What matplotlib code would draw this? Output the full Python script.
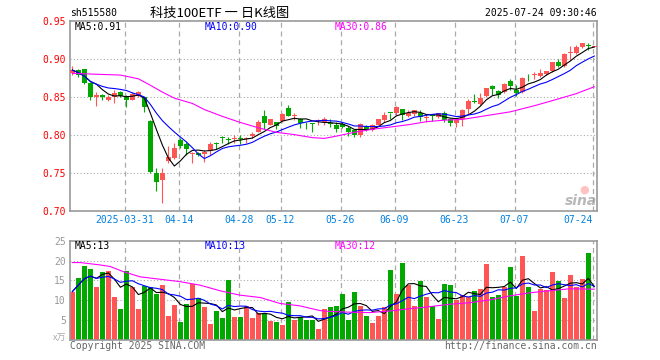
import numpy as np
import pandas as pd
import matplotlib
matplotlib.use('Agg')
import matplotlib.pyplot as plt

# daily K data for 515580, 2025-03-18 .. 2025-07-24 (88 trading days)
opens = [.882, .886, .887, .869, .850, .853, .847, .850, .857, .852,
         .847, .852, .850, .819, .751, .741, .766, .770, .794, .789,
         .776, .777, .775, .779, .7895, .7965, .7945, .795, .7955, .795,
         .799, .805, .825, .814, .818, .819, .836, .825, .822, .8135,
         .8155, .8195, .817, .8155, .814, .815, .810, .807, .800, .812,
         .807, .814, .820, .8295, .830, .835, .826, .828, .829, .823,
         .8255, .824, .829, .821, .816, .822, .835, .8445, .841, .852,
         .865, .859, .857, .871, .860, .857, .8755, .879, .878, .881,
         .885, .897, .891, .908, .909, .916, .9185, .916]
closes = [.886, .879, .869, .850, .853, .850, .850, .856, .852, .846,
          .854, .857, .837, .752, .739, .751, .772, .784, .786, .782,
          .777, .774, .778, .789, .789, .796, .794, .7955, .795, .7955,
          .802, .817, .816, .821, .812, .828, .826, .8255, .816, .813,
          .815, .820, .821, .815, .808, .811, .805, .800, .815, .807,
          .814, .821, .827, .829, .837, .827, .830, .833, .824, .8235,
          .825, .829, .820, .816, .820, .834, .845, .844, .849, .862,
          .861, .853, .868, .865, .856, .875, .875, .8795, .882, .885,
          .897, .892, .907, .9085, .917, .921, .918, .917]
highs = [.891, .887, .888, .870, .857, .855, .853, .860, .858, .853,
         .857, .859, .851, .820, .757, .757, .786, .790, .796, .791,
         .778, .778, .781, .791, .791, .799, .798, .800, .800, .798,
         .804, .820, .833, .822, .818, .830, .840, .830, .823, .818,
         .816, .822, .824, .821, .817, .818, .812, .809, .816, .813,
         .815, .822, .831, .830, .839, .835, .833, .834, .833, .828,
         .828, .830, .832, .823, .822, .835, .848, .854, .856, .862,
         .866, .860, .869, .874, .866, .877, .881, .884, .887, .885,
         .897, .901, .908, .918, .919, .921, .921, .917]
lows = [.879, .877, .867, .846, .839, .846, .845, .843, .851, .837,
        .846, .851, .831, .751, .727, .711, .764, .769, .784, .774,
        .763, .773, .765, .774, .782, .790, .789, .790, .789, .790,
        .797, .804, .809, .813, .808, .818, .825, .820, .810, .808,
        .805, .814, .814, .811, .805, .810, .799, .798, .798, .806,
        .806, .813, .817, .822, .827, .820, .824, .826, .819, .818,
        .819, .823, .818, .812, .811, .812, .828, .843, .840, .851,
        .853, .849, .856, .860, .852, .856, .872, .874, .877, .879,
        .884, .890, .890, .899, .907, .915, .912, .916]

# volume (x10k)
volume = [12.2, 15.5, 18.6, 18.0, 13.3, 17.1, 17.4, 10.8, 7.8, 17.4,
          13.3, 7.9, 13.6, 13.3, 11.6, 13.8, 6.0, 8.8, 4.5, 9.1,
          14.0, 10.5, 8.3, 4.0, 7.3, 5.6, 15.1, 5.8, 5.8, 8.6,
          5.6, 6.7, 6.8, 4.9, 4.5, 3.8, 9.6, 5.0, 5.7, 5.0,
          5.0, 2.8, 7.8, 8.3, 8.6, 11.6, 5.0, 12.1, 8.6, 6.0,
          4.3, 6.0, 8.3, 17.6, 11.6, 19.4, 13.8, 8.6, 14.8, 10.8,
          8.6, 5.3, 14.1, 13.8, 10.1, 11.3, 10.8, 12.3, 12.8, 19.1,
          10.8, 11.3, 13.3, 18.4, 11.1, 21.1, 13.3, 7.3, 12.8, 12.6,
          17.1, 14.8, 10.6, 16.4, 13.3, 15.4, 21.9, 0.25]

ma30_days = [0, 4, 8, 11, 13, 15, 17, 20, 22, 25, 28, 31, 34, 37, 40,
             42, 44, 47, 50, 53, 56, 59, 62, 65, 69, 73, 77, 81, 84, 87]
ma30_price = [.8816, .8805, .8794, .8745, .866, .857, .849, .842, .834, .825,
              .817, .810, .804, .801, .797, .796, .799, .804, .808, .811,
              .814, .818, .820, .821, .826, .831, .839, .848, .855, .864]
vma30_days = [0, 1.3, 4.6, 6.3, 8.5, 11.3, 14.6, 17.9, 21.3, 24.6, 27.9, 31.3,
              34.6, 37.9, 41.3, 42.9, 46.3, 49.6, 52.9, 56.3, 59.6, 62.9, 66.3,
              69.6, 72.9, 76.3, 79.6, 82.9, 86.3, 87]
vma30 = [19.5, 19.5, 18.9, 18.5, 17.2, 15.9, 15.3, 14.7, 13.8, 12.4, 11.3, 10.7,
         9.2, 8.6, 7.4, 7.2, 7.0, 6.9, 7.3, 7.9, 8.4, 9.0, 9.4,
         10.1, 11.1, 11.9, 12.4, 12.9, 12.8, 12.8]

tick_days = [9, 18, 28, 35, 45, 54, 64, 74, 87]
tick_labels = ['2025-03-31', '04-14', '04-28', '05-12', '05-26',
               '06-09', '06-23', '07-07', '07-24']
price_ticks = [0.70, 0.75, 0.80, 0.85, 0.90, 0.95]
vol_ticks = [5, 10, 15, 20, 25]

RED = '#FF5555'
GREEN = '#00A800'
GRID = '#AAAAAA'
MONO = 'DejaVu Sans Mono'
CJK = ['Noto Sans CJK SC', 'DejaVu Sans']

W, H = 660, 360
def fx(x): return x / W
def fy(y): return 1 - y / H

df = pd.DataFrame({'o': opens, 'c': closes, 'h': highs, 'l': lows, 'v': volume})
df['ma5'] = df['c'].rolling(5, min_periods=1).mean()
df['ma10'] = df['c'].rolling(10, min_periods=1).mean()
df['vma5'] = df['v'].rolling(5, min_periods=1).mean()
df['vma10'] = df['v'].rolling(10, min_periods=1).mean()
idx = np.arange(len(df))
up = df['c'] >= df['o']
cols = np.where(up, RED, GREEN)

fig = plt.figure(figsize=(6.6, 3.6), dpi=100)
ax1 = fig.add_axes([fx(70), fy(211.3), fx(597) - fx(70), fy(20.7) - fy(211.3)])
ax2 = fig.add_axes([fx(70), fy(340), fx(597) - fx(70), fy(240.7) - fy(340)])

grid_x = [d - 0.3 for d in tick_days]
for ax in (ax1, ax2):
    ax.set_xlim(-0.4, 87.45)
    for s in ax.spines.values():
        s.set_color('#999999')
        s.set_linewidth(1.2)
    for gx in grid_x:
        ax.axvline(gx, color=GRID, lw=0.9, ls=(0, (4, 3)), zorder=0)
    ax.tick_params(length=0)

# price panel
ax1.set_ylim(0.70, 0.951)
for p in price_ticks[1:-1]:
    ax1.axhline(p, color=GRID, lw=0.8, ls=(0, (1, 2)), zorder=0)
ax1.vlines(idx, df['l'], df['h'], colors=cols, lw=0.8, zorder=2)
body = np.maximum((df['c'] - df['o']).abs(), 0.0012)
ax1.bar(idx, body, bottom=np.minimum(df['o'], df['c']), width=0.8,
        color=cols, linewidth=0, zorder=3)
ax1.plot(idx, df['ma5'], color='black', lw=0.8, zorder=4)
ax1.plot(idx, df['ma10'], color='#0000FF', lw=0.8, zorder=4)
ax1.plot(ma30_days, ma30_price, color='#FF00FF', lw=0.8, zorder=4)
ax1.set_yticks(price_ticks)
ax1.set_yticklabels(['%.2f' % p for p in price_ticks], color='#FF0000',
                    fontsize=7, family=MONO)
ax1.tick_params(axis='y', pad=3)
ax1.set_xticks(grid_x)
ax1.set_xticklabels(tick_labels, color='#0080E0', fontsize=7, family=MONO)
ax1.tick_params(axis='x', pad=3)
ax1.get_xticklabels()[-1].set_horizontalalignment('right')

# volume panel
ax2.set_ylim(0, 25)
for v in vol_ticks[:-1]:
    ax2.axhline(v, color=GRID, lw=0.8, ls=(0, (1, 2)), zorder=0)
ax2.bar(idx, df['v'], width=0.8, color=cols, linewidth=0, zorder=2)
ax2.plot(idx, df['vma5'], color='black', lw=0.8, zorder=3)
ax2.plot(idx, df['vma10'], color='#0000FF', lw=0.8, zorder=3)
ax2.plot(vma30_days, vma30, color='#FF00FF', lw=0.8, zorder=3)
ax2.set_yticks(vol_ticks)
ax2.set_yticklabels([str(v) for v in vol_ticks], color='#999999',
                    fontsize=7, family=MONO)
ax2.tick_params(axis='y', pad=3)
ax2.set_xticks([])

# header and labels
fig.text(fx(70), fy(13), 'sh515580', fontsize=7, family=MONO, va='center')
fig.text(fx(220), fy(13), '科技100ETF 一 日K线图', fontsize=9.5, family=CJK,
         ha='center', va='center')
fig.text(fx(597), fy(13), '2025-07-24 09:30:46', fontsize=7, family=MONO,
         ha='right', va='center')
fig.text(fx(75), fy(27), 'MA5:0.91', fontsize=7, family=MONO, va='center')
fig.text(fx(205), fy(27), 'MA10:0.90', fontsize=7, family=MONO, va='center',
         color='#0000FF')
fig.text(fx(335), fy(27), 'MA30:0.86', fontsize=7, family=MONO, va='center',
         color='#FF00FF')
fig.text(fx(75), fy(246), 'MA5:13', fontsize=7, family=MONO, va='center')
fig.text(fx(205), fy(246), 'MA10:13', fontsize=7, family=MONO, va='center',
         color='#0000FF')
fig.text(fx(335), fy(246), 'MA30:12', fontsize=7, family=MONO, va='center',
         color='#FF00FF')
fig.text(fx(66), fy(338), 'x万', fontsize=6.5, family=CJK, ha='right',
         va='center', color='#AAAAAA', style='italic')
fig.text(fx(70), fy(346), 'Copyright 2025 SINA.COM', fontsize=7, family=MONO,
         va='center', color='#666666')
fig.text(fx(597), fy(346), 'http://finance.sina.com.cn', fontsize=7,
         family=MONO, ha='right', va='center', color='#666666')

# sina watermark
fig.text(fx(584), fy(190), '●', fontsize=8, color='#FF9999', alpha=0.6,
         ha='center', va='center')
fig.text(fx(597), fy(201), 'sina', fontsize=10, color='#999999', alpha=0.7,
         ha='right', va='center', style='italic', weight='bold')

fig.savefig('out.png', dpi=100)
